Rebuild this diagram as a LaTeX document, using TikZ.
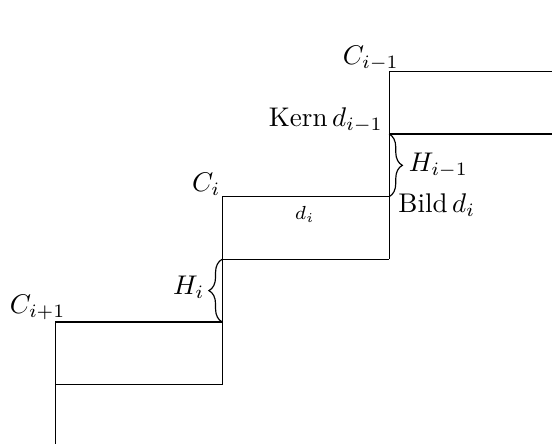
\documentclass[tikz,border=0pt]{standalone}
\usetikzlibrary{decorations.pathreplacing,calc}
\begin{document}
\begin{tikzpicture}[
  bracestyle/.style={decorate,decoration={brace,amplitude=4.5pt}},
  lbl/.style={inner sep=0pt,scale=0.92}
]
\clip (-0.66,-1.46) rectangle (5.95,3.855);
\useasboundingbox (-0.66,-1.46) rectangle (5.95,3.855);
% complexes
\foreach \k in {0,1,2} {
  \coordinate (c\k) at ({2*\k},{1.5*\k});
  \draw (c\k) -- ++(2,0);
  \draw ($(c\k)+(0,-0.75)$) -- ++(2,0);
  \draw (c\k) -- ++(0,-2.25);
}
% labels
\node[lbl] (Cim1) at (3.78,3.16) {$C_{i-1}$};
\node[lbl] (Ci) at (1.81,1.65) {$C_i$};
\node[lbl] (Cip1) at (-0.21,0.17) {$C_{i+1}$};
\node[lbl,anchor=east] (kern) at (3.93,2.41) {Kern\,$d_{i-1}$};
\node[lbl] (bild) at (4.57,1.40) {Bild\,$d_i$};
\node[lbl,font=\scriptsize] (di) at (2.99,1.29) {$d_i$};
% braces
\draw[bracestyle] (4,2.25) -- (4,1.5);
\node[lbl] (Him1) at (4.59,1.87) {$H_{i-1}$};
\draw[bracestyle] (2,0) -- (2,0.75);
\node[lbl] (Hi) at (1.60,0.42) {$H_i$};
\end{tikzpicture}
\end{document}
